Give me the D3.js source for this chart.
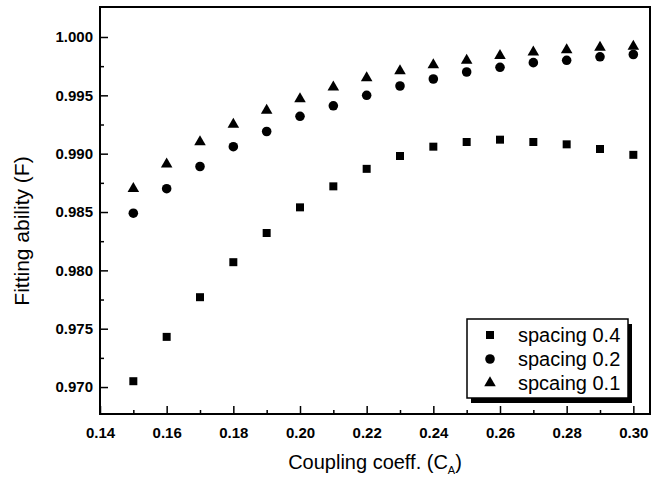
<!DOCTYPE html>
<html>
<head>
<meta charset="utf-8">
<script src="https://cdn.jsdelivr.net/npm/d3@7"></script>
<style>
  body { margin: 0; background: #fff; }
  text { font-family: "Liberation Sans", Arial, sans-serif; fill: #000; }
</style>
</head>
<body>
<script>
// coupling coefficient values (x)
var coupling = [0.15, 0.16, 0.17, 0.18, 0.19, 0.20, 0.21, 0.22, 0.23, 0.24, 0.25, 0.26, 0.27, 0.28, 0.29, 0.30];
// fitting ability for each spacing
var spacing04 = [0.9705, 0.9743, 0.9777, 0.9807, 0.9832, 0.9854, 0.9872, 0.9887, 0.9898, 0.9906, 0.9910, 0.9912, 0.9910, 0.9908, 0.9904, 0.9899];
var spacing02 = [0.9849, 0.9870, 0.9889, 0.9906, 0.9919, 0.9932, 0.9941, 0.9950, 0.9958, 0.9964, 0.9970, 0.9974, 0.9978, 0.9980, 0.9983, 0.9985];
var spacing01 = [0.9870, 0.9891, 0.9910, 0.9925, 0.9937, 0.9947, 0.9957, 0.9965, 0.9971, 0.9976, 0.9980, 0.9984, 0.9987, 0.9989, 0.9991, 0.9992];
var seriesNames = ["spacing 0.4", "spacing 0.2", "spcaing 0.1"];
var xTicks = [0.14, 0.16, 0.18, 0.20, 0.22, 0.24, 0.26, 0.28, 0.30];
var yTicks = [0.970, 0.975, 0.980, 0.985, 0.990, 0.995, 1.000];

var width = 662, height = 477;
var margin = {top: 7, right: 12, bottom: 63, left: 100};

var svg = d3.select("body").append("svg").attr("width", width).attr("height", height);

var x = d3.scaleLinear().domain([0.14, 0.305]).range([margin.left, width - margin.right]);
var y = d3.scaleLinear().domain([0.96769, 1.00257]).range([height - margin.bottom, margin.top]);

var symbols = [d3.symbolSquare, d3.symbolCircle, d3.symbolTriangle];
var symSizes = [64, 72, 58];
var allSeries = [spacing04, spacing02, spacing01];

// minor ticks
var xMinor = d3.range(0.15, 0.305, 0.02);
var yMinor = d3.range(0.9725, 1.001, 0.005);

svg.append("g")
  .attr("transform", "translate(0," + y.range()[0] + ")")
  .call(d3.axisBottom(x).tickValues(xMinor).tickSize(-4).tickFormat(""))
  .call(function(g) { g.select(".domain").remove(); g.selectAll("line").attr("stroke-width", 1.5); });
svg.append("g")
  .attr("transform", "translate(" + x.range()[0] + ",0)")
  .call(d3.axisLeft(y).tickValues(yMinor).tickSize(-4).tickFormat(""))
  .call(function(g) { g.select(".domain").remove(); g.selectAll("line").attr("stroke-width", 1.5); });

var xAxis = svg.append("g")
  .attr("transform", "translate(0," + y.range()[0] + ")")
  .call(d3.axisBottom(x).tickValues(xTicks).tickSize(-8).tickPadding(13).tickFormat(d3.format(".2f")));
xAxis.select(".domain").remove();
xAxis.selectAll("line").attr("stroke-width", 1.5);
xAxis.selectAll("text").attr("font-size", 15).attr("font-weight", "bold");

var yAxis = svg.append("g")
  .attr("transform", "translate(" + x.range()[0] + ",0)")
  .call(d3.axisLeft(y).tickValues(yTicks).tickSize(-8).tickPadding(7).tickFormat(d3.format(".3f")));
yAxis.select(".domain").remove();
yAxis.selectAll("line").attr("stroke-width", 1.5);
yAxis.selectAll("text").attr("font-size", 15).attr("font-weight", "bold");

// frame
svg.append("rect")
  .attr("x", x.range()[0]).attr("y", y.range()[1])
  .attr("width", x.range()[1] - x.range()[0])
  .attr("height", y.range()[0] - y.range()[1])
  .attr("fill", "none").attr("stroke", "#000").attr("stroke-width", 2);

// points
allSeries.forEach(function(vals, s) {
  svg.append("g").selectAll("path")
    .data(vals)
    .enter().append("path")
    .attr("d", d3.symbol().type(symbols[s]).size(symSizes[s]))
    .attr("transform", function(d, i) { return "translate(" + x(coupling[i]) + "," + y(d) + ")"; })
    .attr("fill", "#000");
});

// axis titles
var xt = svg.append("text")
  .attr("x", (x.range()[0] + x.range()[1]) / 2)
  .attr("y", 469)
  .attr("text-anchor", "middle")
  .attr("font-size", 20);
xt.append("tspan").text("Coupling coeff. (C");
xt.append("tspan").attr("font-size", 11).attr("dy", 5).text("A");
xt.append("tspan").attr("dy", -5).text(")");

svg.append("text")
  .attr("transform", "translate(29,231) rotate(-90)")
  .attr("text-anchor", "middle")
  .attr("font-size", 21)
  .text("Fitting ability (F)");

// legend
var lg = svg.append("g").attr("transform", "translate(467,319)");
lg.append("rect").attr("x", 4).attr("y", 5).attr("width", 161).attr("height", 79).attr("fill", "#000");
lg.append("rect").attr("x", 0).attr("y", 0).attr("width", 161).attr("height", 79)
  .attr("fill", "#fff").attr("stroke", "#000").attr("stroke-width", 1.5);
seriesNames.forEach(function(name, s) {
  var row = lg.append("g").attr("transform", "translate(0," + (16 + s * 24) + ")");
  row.append("path")
    .attr("d", d3.symbol().type(symbols[s]).size(symSizes[s]))
    .attr("transform", "translate(23,0)")
    .attr("fill", "#000");
  row.append("text").attr("x", 51).attr("dy", "0.35em").attr("font-size", 20).text(name);
});
</script>
</body>
</html>
